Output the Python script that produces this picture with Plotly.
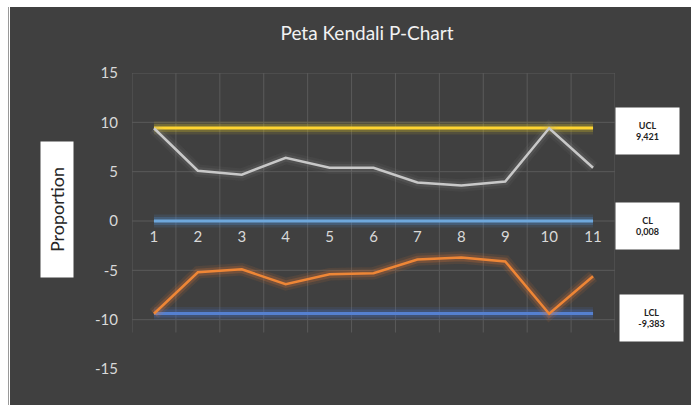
import plotly.graph_objects as go

# ---- data ----
samples = [1, 2, 3, 4, 5, 6, 7, 8, 9, 10, 11]
upper_series = [9.4, 5.1, 4.7, 6.4, 5.4, 5.4, 3.9, 3.6, 4.0, 9.4, 5.4]
lower_series = [-9.4, -5.2, -4.9, -6.4, -5.4, -5.3, -3.9, -3.7, -4.1, -9.4, -5.6]
UCL = 9.421
CL = 0.008
LCL = -9.383
ucl_label = "UCL<br>9,421"
cl_label = "CL<br>0,008"
lcl_label = "LCL<br>-9,383"
y_ticks = [-15, -10, -5, 0, 5, 10, 15]
y_tick_text = ["-15", "-10", "-5", "0", "5", "10", "15"]
title_text = "Peta Kendali P-Chart"
y_title = "Proportion"

# ---- layout geometry ----
W, H = 691, 405
ML, MR, MT, MB = 132, 76, 73, 36
YMIN, YMAX = -15, 15
XMIN, XMAX = 0.5, 11.5
PW, PH = W - ML - MR, H - MT - MB


def px_x(px):
    return (px - ML) / PW


def px_y(py):
    return (H - MB - py) / PH


BG = "#404040"
GRID = "#5a5a5a"
FONT = "Lato"

fig = go.Figure()


def add_line(x, y, color, glow_rgb, alpha, width):
    for extra, a in [(10, alpha * 0.5), (5, alpha)]:
        fig.add_trace(go.Scatter(x=x, y=y, mode="lines",
                                 line=dict(color="rgba(%s,%.3f)" % (glow_rgb, a), width=width + extra),
                                 hoverinfo="skip", showlegend=False))
    fig.add_trace(go.Scatter(x=x, y=y, mode="lines", line=dict(color=color, width=width),
                             showlegend=False))


n = len(samples)
add_line(samples, [UCL] * n, "#FFD531", "200,180,40", 0.28, 3)
add_line(samples, [CL] * n, "#6FA8DC", "80,140,210", 0.28, 3)
add_line(samples, [LCL] * n, "#5580D0", "70,110,200", 0.28, 3)
add_line(samples, upper_series, "#C8C8C8", "150,150,150", 0.15, 2.5)
add_line(samples, lower_series, "#EE8636", "230,120,50", 0.22, 2.5)

shapes = []
# white strips of the screenshot
shapes.append(dict(type="rect", xref="paper", yref="paper", x0=px_x(0), x1=px_x(W),
                   y0=px_y(0), y1=px_y(H), fillcolor="white", line_width=0, layer="below"))
shapes.append(dict(type="rect", xref="paper", yref="paper", x0=px_x(10), x1=px_x(W),
                   y0=px_y(7), y1=px_y(H), fillcolor=BG, line_width=0, layer="below"))
shapes.append(dict(type="line", xref="paper", yref="paper", x0=px_x(8.5), x1=px_x(8.5),
                   y0=px_y(7), y1=px_y(H), line=dict(color="#9a9a9a", width=1), layer="below"))
# grid
grid_bottom = -11.3
for k in range(n + 1):
    xb = samples[0] - 0.5 + k
    shapes.append(dict(type="line", xref="x", yref="y", x0=xb, x1=xb, y0=grid_bottom, y1=YMAX,
                       line=dict(color=GRID, width=1), layer="below"))
for t in y_ticks:
    if t >= grid_bottom:
        shapes.append(dict(type="line", xref="x", yref="y", x0=XMIN, x1=XMAX, y0=t, y1=t,
                           line=dict(color=GRID, width=1), layer="below"))

annotations = [
    dict(text=y_title, xref="paper", yref="paper", x=px_x(57), y=px_y(210),
         textangle=-90, showarrow=False, bgcolor="white", width=133, height=30,
         font=dict(family=FONT, size=18, color="#262626"), xanchor="center", yanchor="middle"),
]
for lab, cx, cy in [(ucl_label, 647.5, 131), (cl_label, 647.5, 226), (lcl_label, 651, 318)]:
    annotations.append(dict(text="<b>" + lab + "</b>", xref="paper", yref="paper",
                            x=px_x(cx), y=px_y(cy), showarrow=False, bgcolor="white",
                            width=61, height=44, align="center",
                            font=dict(family=FONT, size=9, color="#222222"),
                            xanchor="center", yanchor="middle"))

fig.update_layout(
    width=W, height=H,
    margin=dict(l=ML, r=MR, t=MT, b=MB, autoexpand=False),
    paper_bgcolor=BG, plot_bgcolor="rgba(0,0,0,0)",
    title=dict(text=title_text, x=367 / W, xanchor="center",
               y=1 - 33 / H, yanchor="middle", font=dict(family=FONT, size=19, color="#F2F2F2")),
    xaxis=dict(range=[XMIN, XMAX], tickvals=samples, showgrid=False, zeroline=False,
               showline=False, anchor="free", position=(0 - YMIN) / (YMAX - YMIN),
               ticks="", ticklabelstandoff=5,
               tickfont=dict(family=FONT, size=15, color="#D9D9D9")),
    yaxis=dict(range=[YMIN, YMAX], tickvals=y_ticks, ticktext=y_tick_text, showgrid=False,
               zeroline=False, showline=False, ticks="", ticklabelstandoff=13,
               tickfont=dict(family=FONT, size=15, color="#D9D9D9")),
    shapes=shapes, annotations=annotations,
)

fig.write_html("out.html")
